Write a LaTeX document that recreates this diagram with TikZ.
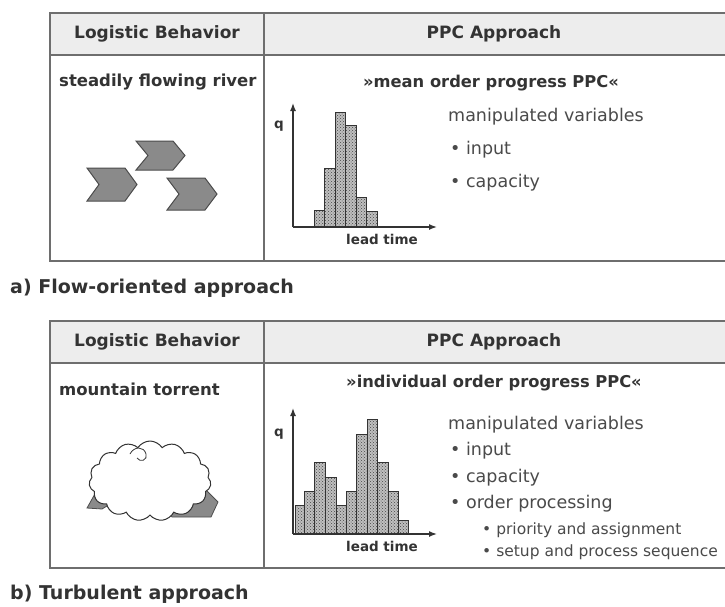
\documentclass[tikz,border=0pt]{standalone}
\usepackage{fontspec}
\setmainfont{DejaVu Sans}
\usetikzlibrary{arrows.meta,patterns,shapes.symbols}
\definecolor{rule}{HTML}{6E6E6E}
\definecolor{headfill}{HTML}{EDEDED}
\definecolor{ink}{HTML}{333333}
\definecolor{softink}{HTML}{4A4A4A}
\definecolor{chev}{HTML}{8A8A8A}
\tikzset{
  frame/.style={draw=rule, line width=2},
  headtxt/.style={font=\bfseries\fontsize{17}{20}\selectfont, text=ink, inner sep=0},
  celltxt/.style={font=\bfseries\fontsize{16.5}{19}\selectfont, text=ink, inner sep=0, anchor=west},
  titletxt/.style={font=\bfseries\fontsize{16.3}{19}\selectfont, text=ink, inner sep=0},
  vartxt/.style={font=\fontsize{17.5}{20}\selectfont, text=softink, inner sep=0, anchor=west},
  subtxt/.style={font=\fontsize{15.5}{18}\selectfont, text=softink, inner sep=0, anchor=west},
  captxt/.style={font=\bfseries\fontsize{19}{22}\selectfont, text=ink, inner sep=0, anchor=west},
  axislbl/.style={font=\bfseries\fontsize{13.5}{15}\selectfont, text=ink, inner sep=0},
  axisline/.style={draw=ink, line width=1.4, -{Latex[length=8,width=6]}},
  bar/.style={draw=ink, line width=0.9, preaction={fill=gray!50}, pattern=crosshatch dots, pattern color=gray!55!black},
  chevron/.style={fill=chev, draw=gray!60!black, line width=1},
}
% one table frame: header band, column rule, open right side
\newcommand{\ppctable}[3]{%
  \fill[headfill] (50,#1) rectangle (725,#2);
  \draw[frame] (725,#1) -- (50,#1) -- (50,#3) -- (725,#3);
  \draw[frame] (50,#2) -- (725,#2);
  \draw[frame] (264,#1) -- (264,#3);
}
\begin{document}
\begin{tikzpicture}[x=1pt,y=-1pt]
\useasboundingbox (0,0) rectangle (725,606);
\fill[white] (0,0) rectangle (725,606);

% ---------------- a) flow-oriented ----------------
\ppctable{13}{55}{261}
\node[headtxt] (ahl) at (157,34) {Logistic Behavior};
\node[headtxt] (ahr) at (494,34) {PPC Approach};
\node[celltxt] (abeh) at (59,82) {steadily flowing river};
\node[titletxt] (atitle) at (491,83) {»mean order progress PPC«};

% river: three chevrons
\fill[chevron] (136,141) -- (173,141) -- (185,155.5) -- (173,170) -- (136,170) -- (148,155.5) -- cycle;
\fill[chevron] (87,168) -- (125,168) -- (137,184.5) -- (125,201) -- (87,201) -- (99,184.5) -- cycle;
\fill[chevron] (167,178) -- (205,178) -- (217,194) -- (205,210) -- (167,210) -- (179,194) -- cycle;

% narrow lead-time distribution
\foreach \xl/\xr/\top in {314/324.5/210, 324.5/335/168, 335/345.5/112, 345.5/356/125, 356/366.5/197, 366.5/377/211}
  \draw[bar] (\xl,227) rectangle (\xr,\top);
\coordinate (ao) at (293,227);
\coordinate (ay) at (293,103);
\coordinate (ax) at (437,227);
\draw[axisline] (ao) -- (ay);
\draw[axisline] (ao) -- (ax);
\node[axislbl] (aq) at (279,126) {q};
\node[axislbl] (alt) at (382,239) {lead time};

\node[vartxt] (amv) at (448,117) {manipulated variables};
\node[vartxt] (ain) at (450,150) {• input};
\node[vartxt] (acap) at (450,183) {• capacity};

\node[captxt] (acap2) at (10,288) {a) Flow-oriented approach};

% ---------------- b) turbulent ----------------
\ppctable{321}{363}{568}
\node[headtxt] (bhl) at (157,342) {Logistic Behavior};
\node[headtxt] (bhr) at (494,342) {PPC Approach};
\node[celltxt] (bbeh) at (59,389) {mountain torrent};
\node[titletxt] (btitle) at (494,383) {»individual order progress PPC«};

% torrent: cloud with a dark shadow peeking out at its lower corners
\fill[chev, draw=gray!60!black, line width=0.8]
  (87,508) -- (96,492) -- (205,489) -- (218,502) -- (211,517) -- (172,517) -- (160,500) -- (112,503) -- (102,509) -- cycle;
\node[cloud, cloud puffs=15, cloud puff arc=115, aspect=1.75, draw=ink, line width=1, fill=white,
      minimum width=122, minimum height=80, inner sep=0] (cloud) at (150,481) {};
\draw[ink, line width=0.8] (130,454) .. controls (134,446) and (144,446) .. (146,454)
  .. controls (148,460) and (140,463) .. (137,458);

% wide, two-peaked lead-time distribution
\foreach \xl/\xr/\top in {295/304/505, 304/314/491, 314/325/462, 325/336/477, 336/346/505, 346/356/491,
                          356/367/434, 367/377/419, 377/388/462, 388/398/491, 398/408/520}
  \draw[bar] (\xl,534) rectangle (\xr,\top);
\coordinate (bo) at (293,534);
\coordinate (by) at (293,408);
\coordinate (bx) at (437,534);
\draw[axisline] (bo) -- (by);
\draw[axisline] (bo) -- (bx);
\node[axislbl] (bq) at (279,434) {q};
\node[axislbl] (blt) at (382,546) {lead time};

\node[vartxt] (bmv) at (448,425) {manipulated variables};
\node[vartxt] (bin) at (450,451) {• input};
\node[vartxt] (bcap) at (450,478) {• capacity};
\node[vartxt] (bop) at (450,504) {• order processing};
\node[subtxt] (bpa) at (482,530) {• priority and assignment};
\node[subtxt] (bsp) at (482,552) {• setup and process sequence};

\node[captxt] (bcap2) at (10,594) {b) Turbulent approach};
\end{tikzpicture}
\end{document}
